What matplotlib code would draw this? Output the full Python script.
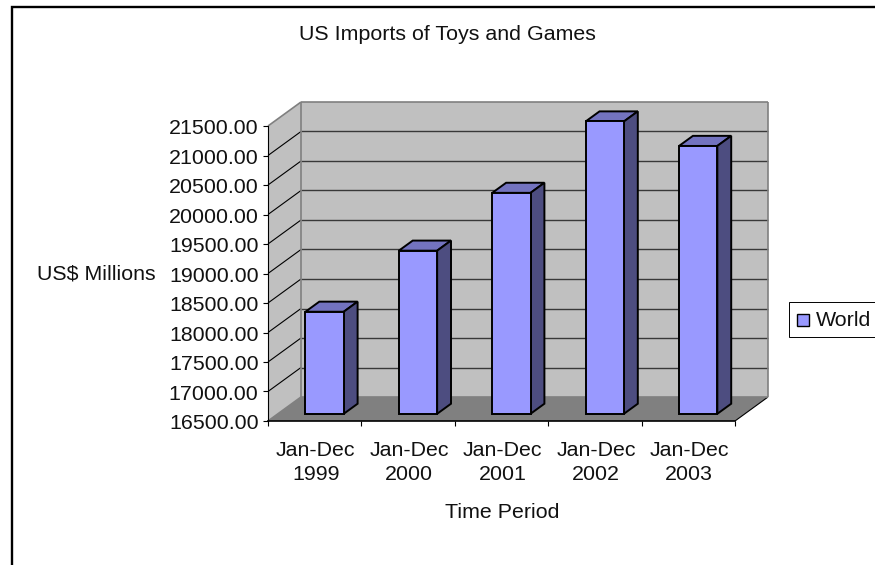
import matplotlib
matplotlib.use("Agg")
import matplotlib.pyplot as plt
from matplotlib.patches import Polygon, Rectangle
from matplotlib.transforms import Affine2D

periods = ["Jan-Dec\n1999", "Jan-Dec\n2000", "Jan-Dec\n2001", "Jan-Dec\n2002", "Jan-Dec\n2003"]
imports_musd = [18230, 19265, 20245, 21455, 21040]
y_ticks = [16500, 17000, 17500, 18000, 18500, 19000, 19500, 20000, 20500, 21000, 21500]

plt.rcParams["font.family"] = ["Liberation Sans", "DejaVu Sans"]

W, H = 875, 565
FS = 15.4

# front plane of the fake 3D box, in pixels from the top left
LEFT, RIGHT, TOP, BOTTOM = 268, 735, 126, 421

fig = plt.figure(figsize=(W / 100, H / 100), dpi=100, facecolor="white")
ax = fig.add_axes([LEFT / W, 1 - BOTTOM / H, (RIGHT - LEFT) / W, (BOTTOM - TOP) / H])
ax.set_xlim(0, len(periods))
ax.set_ylim(y_ticks[0], y_ticks[-1])
ax.patch.set_visible(False)

# one unit of depth shifts a point up and to the right
unit_x = len(periods) / (RIGHT - LEFT)
unit_y = (y_ticks[-1] - y_ticks[0]) / (BOTTOM - TOP)
DEPTH_X = 33 * unit_x
DEPTH_Y = 24 * unit_y


def pt(x, y, depth=0.0):
    return (x + depth * DEPTH_X, y + depth * DEPTH_Y)


def face(points, color, edge="none", lw=0.0, z=1):
    ax.add_patch(Polygon(points, closed=True, facecolor=color, edgecolor=edge,
                         linewidth=lw, joinstyle="miter", clip_on=False, zorder=z))


def line(a, b, color, lw, z=2):
    ax.plot([a[0], b[0]], [a[1], b[1]], color=color, linewidth=lw,
            solid_capstyle="butt", clip_on=False, zorder=z)


x0, x1 = 0, len(periods)
y0, y1 = y_ticks[0], y_ticks[-1]

# walls and floor
face([pt(x0, y0, 1), pt(x1, y0, 1), pt(x1, y1, 1), pt(x0, y1, 1)], "#c0c0c0")
face([pt(x0, y0, 0), pt(x0, y0, 1), pt(x0, y1, 1), pt(x0, y1, 0)], "#c0c0c0")
face([pt(x0, y0, 0), pt(x1, y0, 0), pt(x1, y0, 1), pt(x0, y0, 1)], "#808080")

# gridlines run along the side wall and across the back wall
for v in y_ticks[1:-1]:
    line(pt(x0, v, 0), pt(x0, v, 1), "#000000", 0.8)
    line(pt(x0, v, 1), pt(x1, v, 1), "#383838", 1.0)

# wall outlines
for a, b in [(pt(x0, y1, 0), pt(x0, y1, 1)), (pt(x0, y1, 1), pt(x1, y1, 1)),
             (pt(x1, y1, 1), pt(x1, y0, 1)), (pt(x0, y0, 1), pt(x0, y1, 1)),
             (pt(x0, y0, 1), pt(x1, y0, 1)), (pt(x0, y0, 0), pt(x0, y0, 1))]:
    line(a, b, "#808080", 1.2, z=2.5)
line(pt(x1, y0, 0), pt(x1, y0, 1), "#000000", 0.8)

# bars: front, top and side faces
BAR_W = 0.41
D_FRONT, D_BACK = 0.30, 0.72
for i, val in enumerate(imports_musd):
    c = i + 0.5
    l, r = c - BAR_W / 2, c + BAR_W / 2
    z = 3 + i * 0.1
    face([pt(l, val, D_FRONT), pt(r, val, D_FRONT), pt(r, val, D_BACK), pt(l, val, D_BACK)],
         "#7373bf", "black", 1.4, z)
    face([pt(r, y0, D_FRONT), pt(r, y0, D_BACK), pt(r, val, D_BACK), pt(r, val, D_FRONT)],
         "#4d4d80", "black", 1.4, z)
    face([pt(l, y0, D_FRONT), pt(r, y0, D_FRONT), pt(r, val, D_FRONT), pt(l, val, D_FRONT)],
         "#9999ff", "black", 1.4, z)

# axes
for s in ["top", "right"]:
    ax.spines[s].set_visible(False)
ax.spines["left"].set_color("#000000")
ax.spines["left"].set_linewidth(0.8)
ax.spines["bottom"].set_color("#000000")
ax.spines["bottom"].set_linewidth(1.2)
ax.spines["left"].set_zorder(2.6)
ax.spines["bottom"].set_zorder(2.6)

ax.set_yticks(y_ticks)
ax.set_yticklabels([f"{v:.2f}" for v in y_ticks], fontsize=FS)
ax.tick_params(axis="y", length=3.6, width=0.8, pad=3.2, color="black", labelcolor="#111111")
for lab in ax.get_yticklabels():
    lab.set_transform(lab.get_transform() + Affine2D().translate(0, -0.5))
ax.set_xticks(range(len(periods) + 1))
ax.set_xticklabels([""] * (len(periods) + 1))
ax.tick_params(axis="x", length=3.6, width=0.8, color="black")
for i, label in enumerate(periods):
    ax.annotate(label, xy=(i + 0.5, y0), xycoords="data", xytext=(1, -20),
                textcoords="offset pixels", ha="center", va="top", fontsize=FS,
                linespacing=1.3, color="#111111", annotation_clip=False)

fig.text(447.5 / W, 1 - 35 / H, "US Imports of Toys and Games", ha="center", va="center",
         fontsize=FS, color="#111111")
fig.text(96 / W, 1 - 274 / H, "US$ Millions", ha="center", va="center", fontsize=FS, color="#111111")
fig.text(502 / W, 1 - 512 / H, "Time Period", ha="center", va="center", fontsize=FS, color="#111111")

# chart frame and legend run off the right and bottom edges
fig.add_artist(Rectangle((11.5 / W, -0.05), 1.0, 1.05 - 7 / H, transform=fig.transFigure,
                         facecolor="none", edgecolor="black", linewidth=1.7))
fig.add_artist(Rectangle((788.5 / W, 1 - 337 / H), 0.2, 35 / H, transform=fig.transFigure,
                         facecolor="white", edgecolor="black", linewidth=0.7))
fig.add_artist(Rectangle((797 / W, 1 - 326 / H), 12 / W, 12 / H, transform=fig.transFigure,
                         facecolor="#9999ff", edgecolor="black", linewidth=1.0))
fig.text(816 / W, 1 - 320 / H, "World", ha="left", va="center", fontsize=FS, color="#111111")

fig.savefig("out.png", dpi=100)
plt.close(fig)
